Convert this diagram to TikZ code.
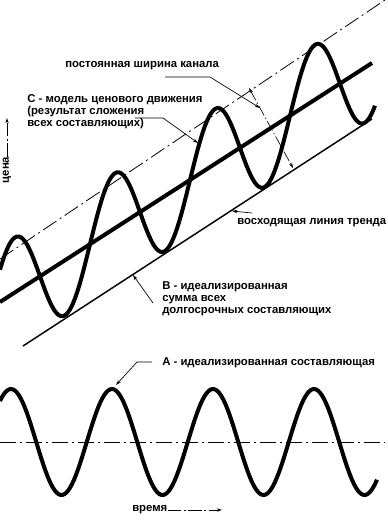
\documentclass[tikz,border=0pt]{standalone}
\usepackage{fontspec}
\setmainfont{Liberation Sans}
\usetikzlibrary{arrows.meta}

\begin{document}
\begin{tikzpicture}[x=0.75pt, y=-0.75pt,
  wave/.style={line width=3pt, line join=round},
  trend/.style={line width=3pt},
  thinline/.style={line width=1.1pt},
  axisline/.style={line width=0.6pt, dash pattern=on 12pt off 3pt on 1.5pt off 3pt},
  axisarrow/.style={line width=0.6pt, dash pattern=on 10pt off 2pt on 1.5pt off 2pt, -{Stealth[length=4pt,width=2.5pt]}},
  leader/.style={line width=0.5pt, -{Stealth[length=4pt,width=2.5pt]}},
  lbl/.style={font=\bfseries\fontsize{8.5}{9}\selectfont, inner sep=0pt, align=left}]
\useasboundingbox (0,0) rectangle (387,520);

% upper part: channel and model C
\draw[axisline] (0,259) -- (385,0);
\draw[trend] (0,302) -- (372,63);
\draw[thinline] (23,346) -- (372,119);
\draw[wave] plot[domain=0:375, samples=200] (\x,{302-0.642*\x-55*cos(3.6*(\x-15))});

% channel width
\coordinate (wtop) at (249,88);
\coordinate (wbot) at (293,168);
\coordinate (wmid) at (260,108);
\draw[line width=0.5pt, dash pattern=on 8pt off 2pt on 1pt off 2pt, {Stealth[length=4pt,width=2.5pt]}-{Stealth[length=4pt,width=2.5pt]}] (wtop) -- (wbot);

\node[lbl, anchor=west] (width) at (65,66) {постоянная ширина канала};
\coordinate (w1) at (165,77);
\coordinate (w2) at (210,77);
\draw[leader] (w1) -- (w2) -- (wmid);

\node[lbl, anchor=north west] (modelC) at (27,94) {С - модель ценового движения\\(результат сложения\\всех составляющих)};
\coordinate (c1) at (135,118);
\coordinate (c2) at (163,118);
\coordinate (c3) at (198,143);
\draw[leader] (c1) -- (c2) -- (c3);

\node[lbl, anchor=west] (trendlbl) at (237,223) {восходящая линия тренда};
\coordinate (t1) at (252,213);
\coordinate (t2) at (232,211);
\draw[leader] (t1) -- (t2);

\node[lbl, anchor=north west] (sumB) at (162,281) {В - идеализированная\\сумма всех\\долгосрочных составляющих};
\coordinate (b1) at (153,303);
\coordinate (b2) at (133,275);
\draw[leader] (b1) -- (b2);

\node[lbl, rotate=90] (price) at (7,170) {цена};
\coordinate (p1) at (7,118);
\draw[axisarrow] (price.east) -- (p1);

% lower part: component A
\draw[axisline] (0,442) -- (385,442);
\draw[wave] plot[domain=0:377, samples=200] (\x,{442-53*cos(3.5644*(\x-11))});

\node[lbl, anchor=west] (compA) at (162,363) {А - идеализированная составляющая};
\coordinate (a1) at (152,362);
\coordinate (a2) at (137,362);
\coordinate (a3) at (116,385);
\draw[leader] (a1) -- (a2) -- (a3);

\node[lbl, anchor=west] (time) at (132,510) {время};
\coordinate (e1) at (222,510);
\draw[axisarrow] (time.east) -- (e1);
\end{tikzpicture}
\end{document}
